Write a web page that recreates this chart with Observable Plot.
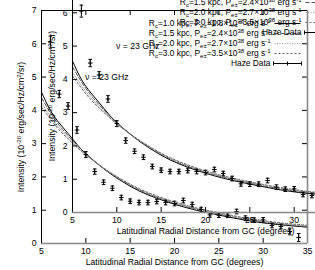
<!DOCTYPE html>
<html><head><meta charset="utf-8">
<script src="https://cdn.jsdelivr.net/npm/d3@7"></script>
<script src="https://cdn.jsdelivr.net/npm/@observablehq/plot@0.6"></script>
<style>
html,body{margin:0;padding:0;background:#fff;}
#wrap{position:relative;width:315px;height:270px;overflow:hidden;background:#fff;}
#wrap svg{position:absolute;}
</style></head><body><div id="wrap"></div>
<script>
// Haze data (degrees, intensity, error)
const distances = [6,7,8,9,10,11,12,13,14,15,16,17,18,19,20,21,22,23,24,25,26,27,28,29,30,31,32,33,34];
const intensity = [6.05,4.49,4.13,3.41,2.67,2.16,1.84,1.66,1.38,1.27,1.23,1.23,1.26,1.23,1.20,1.29,1.17,1.02,0.86,0.85,0.85,0.96,0.76,0.70,0.71,0.54,0.51,0.36,0.18];
const errors = [0.18,0.11,0.10,0.10,0.09,0.08,0.07,0.07,0.07,0.07,0.07,0.07,0.07,0.07,0.07,0.07,0.07,0.07,0.07,0.07,0.07,0.07,0.07,0.07,0.07,0.07,0.07,0.10,0.12];
// Model curves
const modelX   = [5,6,7,8,9,10,12,14,16,18,20,22,24,26,28,30,32,35];
const modelR10 = [4.55,4.00,3.62,3.30,2.98,2.70,2.25,1.88,1.58,1.36,1.18,1.03,0.91,0.80,0.70,0.62,0.56,0.49];
const modelR15 = [4.38,3.93,3.55,3.24,2.95,2.69,2.26,1.90,1.61,1.39,1.21,1.06,0.94,0.83,0.73,0.65,0.58,0.51];
const modelR20 = [4.22,3.82,3.47,3.18,2.91,2.67,2.26,1.92,1.63,1.41,1.23,1.08,0.96,0.85,0.75,0.67,0.60,0.53];
const modelR30 = [4.10,3.74,3.41,3.14,2.89,2.66,2.27,1.93,1.65,1.43,1.25,1.10,0.98,0.87,0.77,0.69,0.62,0.55];
const legendLabels = [
  "R_{c}=1.0 kpc, P_{e±}=1.8×10^{38} erg s^{-1}",
  "R_{c}=1.5 kpc, P_{e±}=2.4×10^{38} erg s^{-1}",
  "R_{c}=2.0 kpc, P_{e±}=2.7×10^{38} erg s^{-1}",
  "R_{c}=3.0 kpc, P_{e±}=3.5×10^{38} erg s^{-1}",
  "Haze Data"
];
const xTicks = [5,10,15,20,25,30,35];
const yTicks = [0,1,2,3,4,5,6,7];
const xDomain = [5,35];
const yDomain = [0,7];
const freqLabel = "ν = 23 GHz";
const freqPos = {x: 9.9, y: 5.0};
const xLabel = "Latitudinal Radial Distance from GC (degrees)";
const yLabel = "Intensity (10^{-20} erg/sec/Hz/cm^{2}/sr)";

const styles = [
  {stroke: "#000", dash: null},
  {stroke: "#555", dash: "4,2"},
  {stroke: "#999", dash: "1,1.5"},
  {stroke: "#666", dash: "2,2"}
];
const modelSeries = [modelR10, modelR15, modelR20, modelR30];

const capSym = {draw(ctx){ ctx.moveTo(-1.8,0); ctx.lineTo(1.8,0); }};
const lineSym = {draw(ctx){ ctx.moveTo(-13,0); ctx.lineTo(13,0); }};
const errSym = {draw(ctx){
  ctx.moveTo(-14,0); ctx.lineTo(14,0);
  ctx.moveTo(-14,-2); ctx.lineTo(-14,2);
  ctx.moveTo(14,-2); ctx.lineTo(14,2);
  ctx.moveTo(0,-2); ctx.lineTo(0,2);
}};

function richify(root){
  root.querySelectorAll("text").forEach(t => {
    const s = t.textContent;
    if (!/[_^]\{/.test(s)) return;
    const parts = s.split(/([_^]\{[^}]*\})/).filter(p => p.length);
    t.textContent = "";
    let shift = 0;
    for (const p of parts) {
      const ts = document.createElementNS("http://www.w3.org/2000/svg", "tspan");
      let target = 0, txt = p, small = false;
      if (p.startsWith("^{")) { target = -3.1; txt = p.slice(2, -1); small = true; }
      else if (p.startsWith("_{")) { target = 2; txt = p.slice(2, -1); small = true; }
      ts.setAttribute("dy", (target - shift) + "px");
      shift = target;
      if (small) ts.setAttribute("font-size", "0.72em");
      ts.textContent = txt;
      t.appendChild(ts);
    }
  });
}

function makeChart() {
  const haze = distances.map((d, i) => ({d, v: intensity[i], lo: intensity[i] - errors[i], hi: intensity[i] + errors[i]}));
  const lines = modelSeries.map((vals, k) =>
    Plot.line(modelX.map((d, i) => ({d, v: vals[i]})), {
      x: "d", y: "v", curve: "natural", stroke: styles[k].stroke, strokeWidth: 1,
      strokeDasharray: styles[k].dash
    }));
  const legend = [];
  legendLabels.forEach((lab, i) => {
    legend.push(Plot.text([lab], {text: d => d, frameAnchor: "top-right", textAnchor: "end", lineAnchor: "middle", fontSize: 8.4, dx: -37, dy: 13 + 10 * i}));
    if (i < 4) {
      legend.push(Plot.dot([0], {frameAnchor: "top-right", dx: -20, dy: 13 + 10 * i, symbol: lineSym,
        fill: "none", stroke: styles[i].stroke, strokeDasharray: styles[i].dash, strokeWidth: 1}));
    } else {
      legend.push(Plot.dot([0], {frameAnchor: "top-right", dx: -20, dy: 13 + 10 * i, symbol: errSym,
        fill: "none", stroke: "#000", strokeWidth: 1}));
    }
  });
  const svg = Plot.plot({
    width: 315, height: 270,
    marginLeft: 41, marginRight: 8, marginTop: 10, marginBottom: 27,
    style: {background: "transparent", fontFamily: "'Liberation Sans', Arial, sans-serif", fontSize: "8.7px", color: "#000", overflow: "visible"},
    x: {domain: xDomain, ticks: xTicks, tickFormat: d => String(d), tickSize: 0, tickPadding: 4, label: null},
    y: {domain: yDomain, ticks: yTicks, tickFormat: d => String(d), tickSize: 0, tickPadding: 5, label: null},
    marks: [
      ...lines,
      Plot.ruleX(haze, {x: "d", y1: "lo", y2: "hi", stroke: "#000", strokeWidth: 1}),
      Plot.dot(haze, {x: "d", y: "lo", symbol: capSym, fill: "none", stroke: "#000", strokeWidth: 1}),
      Plot.dot(haze, {x: "d", y: "hi", symbol: capSym, fill: "none", stroke: "#000", strokeWidth: 1}),
      Plot.dot(haze, {x: "d", y: "v", symbol: "plus", r: 1.6, fill: "none", stroke: "#000", strokeWidth: 1}),
      Plot.tickX(xTicks, {x: d => d, insetTop: 228, stroke: "#000"}),
      Plot.tickX(xTicks, {x: d => d, insetBottom: 228, stroke: "#000"}),
      Plot.tickY(yTicks, {y: d => d, insetRight: 261, stroke: "#000"}),
      Plot.tickY(yTicks, {y: d => d, insetLeft: 261, stroke: "#000"}),
      Plot.ruleX([xDomain[0]], {stroke: "#000"}),
      Plot.ruleY([yDomain[1]], {stroke: "#000"}),
      Plot.ruleY([yDomain[0]], {stroke: "#888", strokeWidth: 1.6}),
      Plot.ruleX([xDomain[1]], {stroke: "#888", strokeWidth: 1.6}),
      Plot.text([xLabel], {text: d => d, frameAnchor: "bottom", textAnchor: "middle", lineAnchor: "middle", dy: 19}),
      Plot.text([yLabel], {text: d => d, frameAnchor: "left", textAnchor: "middle", lineAnchor: "middle", rotate: -90, dx: -20}),
      Plot.text([freqLabel], {text: d => d, x: () => freqPos.x, y: () => freqPos.y, textAnchor: "start"}),
      ...legend
    ]
  });
  richify(svg);
  return svg;
}

const wrap = document.getElementById("wrap");
const outer = makeChart();
outer.style.left = "0px"; outer.style.top = "0px";
wrap.appendChild(outer);
const inner = makeChart();
inner.style.left = "31px"; inner.style.top = "-31px";
wrap.appendChild(inner);
</script>
</body></html>
